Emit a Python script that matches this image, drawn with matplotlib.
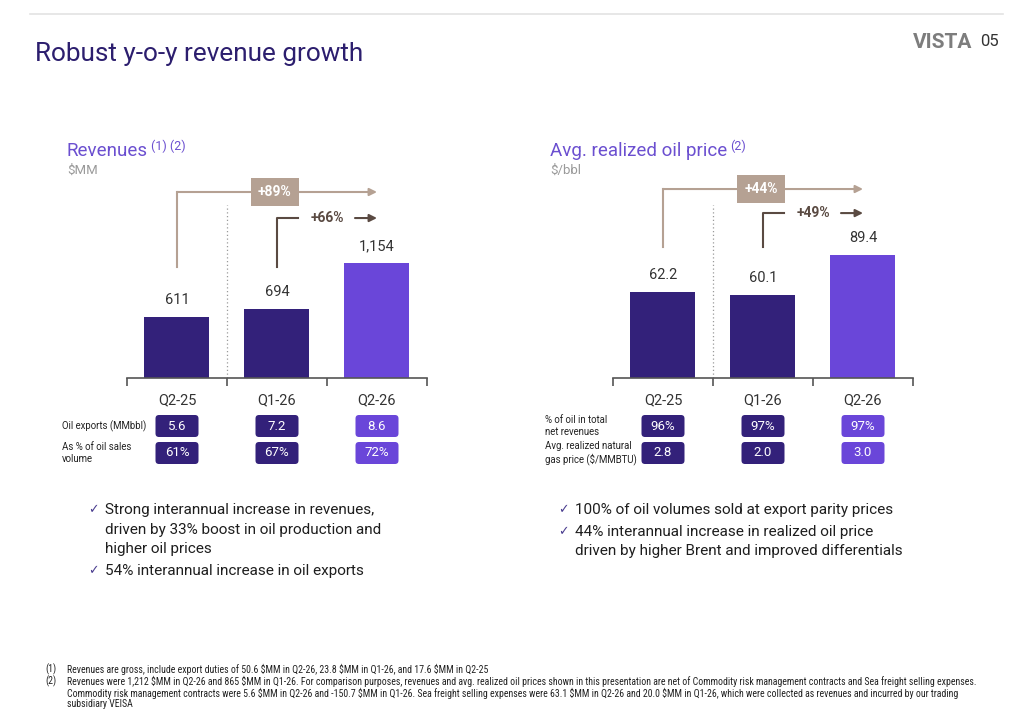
import numpy as np
import matplotlib.pyplot as plt
import matplotlib.transforms as mtransforms
from matplotlib.patches import FancyBboxPatch

plt.rcParams['font.family'] = ['Roboto', 'DejaVu Sans']

W, H = 1020, 718

### Data ###
quarters = ["Q2-25", "Q1-26", "Q2-26"]
revenues = [611, 694, 1154]
revenue_labels = ["611", "694", "1,154"]
oil_price = [62.2, 60.1, 89.4]
oil_price_labels = ["62.2", "60.1", "89.4"]

oil_exports = ["5.6", "7.2", "8.6"]
export_share = ["61%", "67%", "72%"]
oil_rev_share = ["96%", "97%", "97%"]
gas_price = ["2.8", "2.0", "3.0"]

rev_growth = ["+89%", "+66%"]
price_growth = ["+44%", "+49%"]

### Colours ###
DARK = "#33217a"
LIGHT = "#6a46d9"
bar_colors = [DARK, DARK, LIGHT]
TAN = "#b5a193"
BROWN = "#5a4a42"
TITLE = "#2c1e6e"
SUBTITLE = "#6b4fd0"


def fx(x):
    return x / W


def fy(y):
    return 1 - y / H


def add_ax(fig, left, top, right, bottom):
    return fig.add_axes([fx(left), fy(bottom), (right - left) / W, (bottom - top) / H])


def draw_chart(fig, left, values, labels, ymax, growth, y_start, y_long, y_short):
    ax = add_ax(fig, left, 130, left + 300, 378)
    x = np.arange(len(values))
    ax.bar(x, values, width=0.65, color=bar_colors, zorder=2)
    for i, v in enumerate(values):
        ax.annotate(labels[i], (i, v), xytext=(0, 7), textcoords="offset points",
                    ha="center", va="bottom", fontsize=10.5, color="#333333")
    ax.set_xlim(-0.5, 2.5)
    ax.set_ylim(0, ymax)
    for s in ["top", "left", "right"]:
        ax.spines[s].set_visible(False)
    ax.spines["bottom"].set_color("#555555")
    ax.spines["bottom"].set_linewidth(1.2)
    ax.set_yticks([])
    ax.set_xticks([-0.5, 0.5, 1.5, 2.5])
    ax.set_xticklabels([])
    ax.tick_params(axis="x", which="major", direction="out", length=6, width=1.2, color="#555555")
    ax.set_xticks(x, minor=True)
    ax.set_xticklabels(quarters, minor=True, fontsize=10.5, color="#333333")
    ax.tick_params(axis="x", which="minor", length=0, pad=11)

    tr = mtransforms.blended_transform_factory(ax.transData, ax.transAxes)

    # separator
    ax.plot([0.5, 0.5], [0, 0.698], transform=tr, ls=(0, (1, 2)), color="#9a9a9a", lw=0.9,
            clip_on=False)

    # long arrow (year on year)
    ax.plot([0, 0], [y_start, y_long], transform=tr, color=TAN, lw=1.5, clip_on=False)
    ax.annotate("", xy=(2.0, y_long), xycoords=tr, xytext=(0, y_long), textcoords=tr,
                arrowprops=dict(arrowstyle="-|>", color=TAN, lw=1.5, shrinkA=0, shrinkB=0,
                                mutation_scale=11))
    ax.text(0.98, y_long, growth[0], transform=tr, ha="center", va="center", fontsize=10,
            fontweight="bold", color="white", zorder=5,
            bbox=dict(boxstyle="square,pad=0.5", fc=TAN, ec="none"))

    # short arrow (quarter on quarter)
    ax.plot([1, 1, 1.21], [y_start, y_short, y_short], transform=tr, color=BROWN, lw=1.5,
            clip_on=False)
    ax.text(1.5, y_short, growth[1], transform=tr, ha="center", va="center", fontsize=10,
            fontweight="bold", color=BROWN)
    ax.annotate("", xy=(2.0, y_short), xycoords=tr, xytext=(1.78, y_short), textcoords=tr,
                arrowprops=dict(arrowstyle="-|>", color=BROWN, lw=1.5, shrinkA=0, shrinkB=0,
                                mutation_scale=11))
    return ax


def draw_table(fig, left, row1, row2):
    tab = add_ax(fig, left, 410, left + 300, 470)
    tab.set_xlim(-0.5, 2.5)
    tab.set_ylim(0, 60)
    tab.axis("off")
    for r, (cells, cy) in enumerate([(row1, 44), (row2, 17)]):
        for i, txt in enumerate(cells):
            box = FancyBboxPatch((i - 0.215, cy - 11), 0.43, 22,
                                 boxstyle="round,pad=0,rounding_size=0.035",
                                 mutation_aspect=100, fc=bar_colors[i], ec="none")
            tab.add_patch(box)
            tab.text(i, cy, txt, ha="center", va="center", fontsize=9.5, color="white")


def title_with_sup(fig, x, y, main, sup, sub):
    t = fig.text(fx(x), fy(y), main, fontsize=13.5, color=SUBTITLE, va="center")
    fig.canvas.draw()
    bb = t.get_window_extent()
    fig.text(bb.x1 / W + 3 / W, fy(y - 5), sup, fontsize=9, color=SUBTITLE, va="center")
    fig.text(fx(x), fy(y + 19), sub, fontsize=9.5, color="#9a9a9a", va="center")


fig = plt.figure(figsize=(W / 100, H / 100), dpi=100)

# header
fig.add_artist(plt.Line2D([fx(30), fx(1003)], [fy(14), fy(14)], color="#e3e3e3", lw=1.2))
fig.text(fx(35), fy(54), "Robust y-o-y revenue growth", fontsize=18.8, color=TITLE, va="center")
fig.text(fx(972), fy(42), "VISTA", fontsize=15, fontweight="bold", color="#7d7d7d",
         ha="right", va="center")
fig.text(fx(980), fy(42), "05", fontsize=12, color="#333333", ha="left", va="center")

# charts
title_with_sup(fig, 67, 151, "Revenues", "(1) (2)", "\\$MM")
title_with_sup(fig, 550, 151, "Avg. realized oil price", "(2)", "\\$/bbl")

draw_chart(fig, 127, revenues, revenue_labels, 2480, rev_growth, 0.448, 0.75, 0.645)
draw_chart(fig, 613, oil_price, oil_price_labels, 248 / 1.38, price_growth, 0.528, 0.762, 0.665)

draw_table(fig, 127, oil_exports, export_share)
draw_table(fig, 613, oil_rev_share, gas_price)

row_kw = dict(fontsize=6.9, color="#222222", va="center", linespacing=1.3)
fig.text(fx(62), fy(426), "Oil exports (MMbbl)", **row_kw)
fig.text(fx(62), fy(453), "As % of oil sales\nvolume", **row_kw)
fig.text(fx(545), fy(426), "% of oil in total\nnet revenues", **row_kw)
fig.text(fx(545), fy(453), "Avg. realized natural\ngas price (\\$/MMBTU)", **row_kw)

# bullets
bullet_kw = dict(fontsize=11, color="#1e1e1e", va="center")
check_kw = dict(fontsize=9, color="#4a3d8f", va="center", family=["DejaVu Sans"])
left_lines = [(510, True, "Strong interannual increase in revenues,"),
              (530, False, "driven by 33% boost in oil production and"),
              (549, False, "higher oil prices"),
              (571, True, "54% interannual increase in oil exports")]
right_lines = [(510, True, "100% of oil volumes sold at export parity prices"),
               (532, True, "44% interannual increase in realized oil price"),
               (551, False, "driven by higher Brent and improved differentials")]
for y, chk, txt in left_lines:
    if chk:
        fig.text(fx(88), fy(y), "\u2713", **check_kw)
    fig.text(fx(105), fy(y), txt, **bullet_kw)
for y, chk, txt in right_lines:
    if chk:
        fig.text(fx(558), fy(y), "\u2713", **check_kw)
    fig.text(fx(575), fy(y), txt, **bullet_kw)

# footnotes
foot_kw = dict(fontsize=7.15, color="#222222", va="center",
               family=["Liberation Sans Narrow", "Roboto Condensed", "Roboto"])
footnotes = [
    (669, "(1)", "Revenues are gross, include export duties of 50.6 \\$MM in Q2-26, 23.8 \\$MM in Q1-26, and 17.6 \\$MM in Q2-25"),
    (681, "(2)", "Revenues were 1,212 \\$MM in Q2-26 and 865 \\$MM in Q1-26. For comparison purposes, revenues and avg. realized oil prices shown in this presentation are net of Commodity risk management contracts and Sea freight selling expenses."),
    (693, "", "Commodity risk management contracts were 5.6 \\$MM in Q2-26 and -150.7 \\$MM in Q1-26. Sea freight selling expenses were 63.1 \\$MM in Q2-26 and 20.0 \\$MM in Q1-26, which were collected as revenues and incurred by our trading"),
    (704, "", "subsidiary VEISA"),
]
for y, num, txt in footnotes:
    if num:
        fig.text(fx(45), fy(y), num, **foot_kw)
    fig.text(fx(67), fy(y), txt, **foot_kw)

fig.savefig("out.png", dpi=100)
